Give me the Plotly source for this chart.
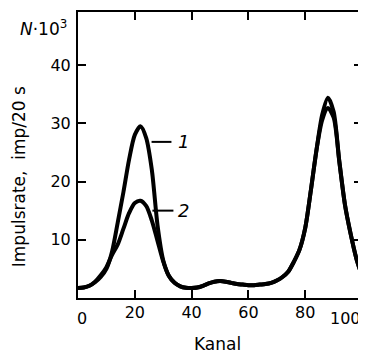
import plotly.graph_objects as go

# Data (channel, counts in units of 10^3 imp/20 s)
kanal = [0, 2, 4, 6, 8, 10, 12, 14, 16, 18, 20, 22, 24, 26, 28, 30, 32, 34, 36, 38,
         40, 42, 44, 46, 48, 50, 52, 54, 56, 58, 60, 62, 64, 66, 68, 70, 72, 74, 76, 78,
         80, 82, 84, 86, 88, 90, 92, 94, 96, 98, 100]

rate_1 = [1.7, 1.8, 2.1, 2.7, 3.6, 5.0, 8.0, 13.0, 18.2, 23.8, 28.0, 29.5, 27.5, 22.0, 12.5, 6.5, 3.8, 2.6, 2.0, 1.75,
          1.7, 1.8, 2.1, 2.5, 2.8, 2.9, 2.8, 2.6, 2.4, 2.3, 2.2, 2.2, 2.3, 2.4, 2.6, 3.0, 3.6, 4.5, 6.2, 8.3,
          12.0, 18.5, 25.5, 31.5, 34.4, 32.0, 23.5, 16.0, 11.0, 6.8, 3.8]

rate_2 = [1.7, 1.8, 2.1, 2.8, 3.9, 5.3, 7.4, 9.2, 11.9, 14.6, 16.3, 16.7, 15.8, 13.3, 9.8, 6.3, 3.8, 2.6, 2.0, 1.75,
          1.7, 1.8, 2.1, 2.5, 2.8, 2.9, 2.8, 2.6, 2.4, 2.3, 2.2, 2.2, 2.3, 2.4, 2.6, 3.0, 3.6, 4.5, 6.2, 8.3,
          12.0, 18.5, 25.5, 30.6, 32.6, 31.0, 23.5, 16.0, 11.0, 6.8, 3.8]

x_ticks = [20, 40, 60, 80]
y_ticks = [10, 20, 30, 40]
curve_labels = ["1", "2"]

FONT = "DejaVu Sans"

fig = go.Figure()
for ys in (rate_1, rate_2):
    fig.add_trace(go.Scatter(x=kanal, y=ys, mode="lines",
                             line=dict(color="black", width=4, shape="spline", smoothing=0.8),
                             showlegend=False, hoverinfo="skip"))

axis_common = dict(showline=True, linecolor="black", linewidth=2, mirror="ticks",
                   ticks="inside", ticklen=8, tickwidth=2, tickcolor="black",
                   showgrid=False, zeroline=False,
                   tickfont=dict(family=FONT, size=16, color="black"))

fig.update_xaxes(range=[0, 100], tickvals=x_ticks, ticktext=[str(v) for v in x_ticks],
                 ticklabelstandoff=-1, **axis_common)
fig.update_yaxes(range=[0, 49.1], tickvals=y_ticks, ticktext=[str(v) for v in y_ticks],
                 ticklabelstandoff=2, **axis_common)

# leader lines for curve labels
fig.add_shape(type="line", x0=25.9, x1=32.9, y0=26.8, y1=26.8, xref="x", yref="y",
              line=dict(color="black", width=2))
fig.add_shape(type="line", x0=26.2, x1=33.6, y0=15.0, y1=15.0, xref="x", yref="y",
              line=dict(color="black", width=2))

ann = []
ann.append(dict(x=34.5, y=26.9, xref="x", yref="y", text="<i>" + curve_labels[0] + "</i>",
                showarrow=False, xanchor="left", yanchor="middle",
                font=dict(family=FONT, size=18, color="black")))
ann.append(dict(x=34.5, y=15.1, xref="x", yref="y", text="<i>" + curve_labels[1] + "</i>",
                showarrow=False, xanchor="left", yanchor="middle",
                font=dict(family=FONT, size=18, color="black")))
# x tick labels at the ends
ann.append(dict(x=0.014, y=-0.031, xref="paper", yref="paper", text="0", showarrow=False,
                xanchor="center", yanchor="top", font=dict(family=FONT, size=16, color="black")))
ann.append(dict(x=1.005, y=-0.031, xref="paper", yref="paper", text="100", showarrow=False,
                xanchor="right", yanchor="top", font=dict(family=FONT, size=16, color="black")))
# axis titles
ann.append(dict(x=0.49, y=-0.160, xref="paper", yref="paper", text="Kanal", showarrow=False,
                xanchor="center", yanchor="middle", font=dict(family=FONT, size=17, color="black")))
ann.append(dict(x=-0.205, y=0.425, xref="paper", yref="paper", text="Impulsrate,  imp/20 s",
                showarrow=False, textangle=-90, xanchor="center", yanchor="middle",
                font=dict(family=FONT, size=17, color="black")))
ann.append(dict(x=-0.033, y=0.944, xref="paper", yref="paper",
                text="<i>N</i>·10<sup>3</sup>", showarrow=False, xanchor="right", yanchor="middle",
                font=dict(family=FONT, size=17, color="black")))

# page has an 8px body margin, so the figure is 8px smaller than the window
fig.update_layout(width=358, height=348, margin=dict(l=70, r=2, t=3, b=58),
                  paper_bgcolor="white", plot_bgcolor="white", annotations=ann,
                  font=dict(family=FONT, color="black"))

fig.write_html("out.html")
